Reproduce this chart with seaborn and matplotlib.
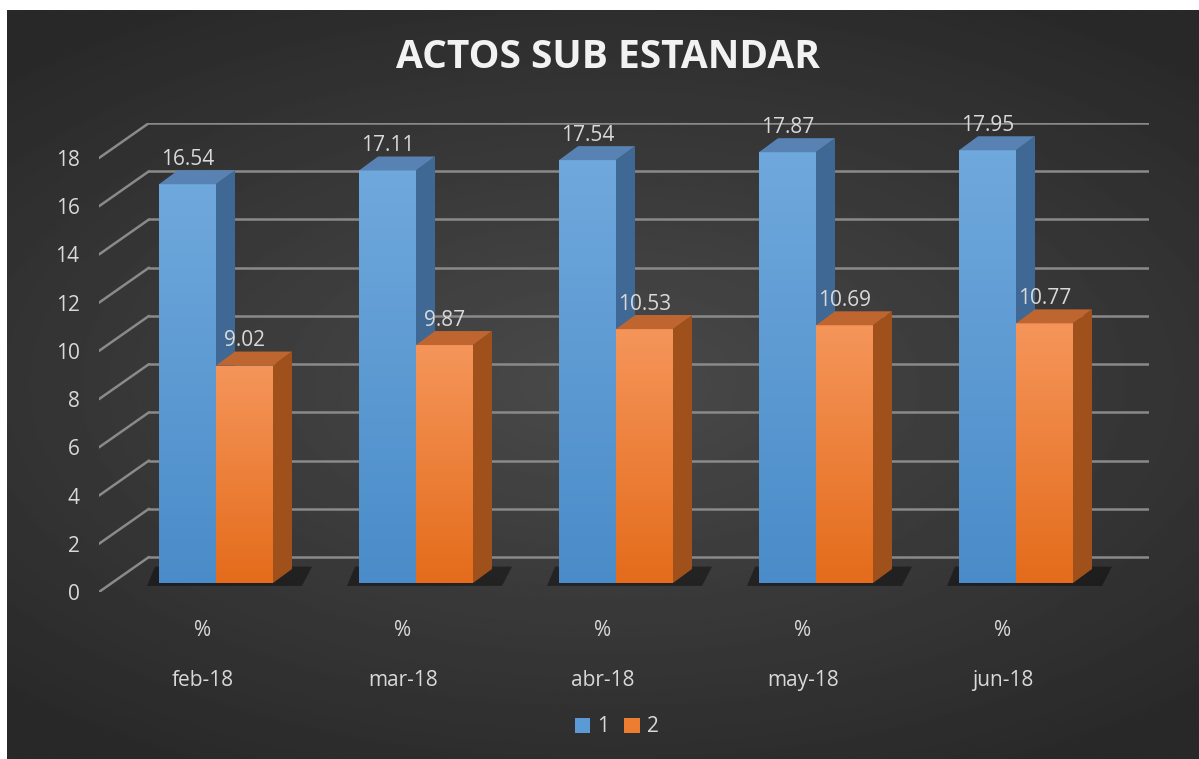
import numpy as np
import pandas as pd
import matplotlib
matplotlib.use("Agg")
import matplotlib.pyplot as plt
import seaborn as sns
from matplotlib.patches import Polygon

# Data
months = ["feb-18", "mar-18", "abr-18", "may-18", "jun-18"]
serie_1 = [16.54, 17.11, 17.54, 17.87, 17.95]
serie_2 = [9.02, 9.87, 10.53, 10.69, 10.77]
y_ticks = [0, 2, 4, 6, 8, 10, 12, 14, 16, 18]

df = pd.DataFrame({
    "mes": months * 2,
    "valor": serie_1 + serie_2,
    "serie": ["1"] * len(months) + ["2"] * len(months),
})

sns.set_theme(style="dark")
plt.rcParams["font.family"] = ["Open Sans", "DejaVu Sans"]

txt_col = "#d9d9d9"
grid_col = "#8a8a8a"

# 3D look offsets (data units)
dxb, dyb = 0.185, 1.08     # back wall
dxf, dyf = -0.065, -0.373  # front edge of floor
ddx, ddy = 0.095, 0.58     # bar depth
xl, xr = -0.52, 4.48

fig = plt.figure(figsize=(11.99, 7.59), dpi=100)
fig.patch.set_facecolor("white")

# background panel with radial gradient
bg = fig.add_axes([7 / 1199, 0, 1 - 7 / 1199, 1 - 10 / 759])
yy, xx = np.mgrid[-1:1:300j, -1:1:400j]
rr = np.sqrt((xx * 0.9) ** 2 + (yy * 1.1) ** 2)
bg.imshow(0.29 - 0.13 * np.clip(rr, 0, 1.3) / 1.3, cmap="gray", vmin=0, vmax=1,
          aspect="auto", extent=[0, 1, 0, 1])
bg.set_axis_off()

ax = fig.add_axes([99 / 1199, 167 / 759, 1050 / 1199, 469 / 759])
ax.patch.set_alpha(0)
ax.set_zorder(2)

palette = {"1": "#5b9bd5", "2": "#ed7d31"}
sns.barplot(data=df, x="mes", y="valor", hue="serie", palette=palette,
            width=0.57, saturation=1, ax=ax, legend=True, zorder=3)

ax.set_xlim(xl + dxf, xr + dxb)
ax.set_ylim(dyf, y_ticks[-1] + dyb)

# grid: back wall lines and left side diagonals
for v in y_ticks:
    ax.plot([xl + dxb, xr + dxb], [v + dyb, v + dyb], color=grid_col, lw=1.8, zorder=1)
    ax.plot([xl + dxf, xl + dxb], [v + dyf, v + dyb], color=grid_col, lw=1.8, zorder=1)

faces = {
    "1": ("#6fa8dc", "#4a8cc9", "#3f6894", "#5782b3"),
    "2": ("#f5955a", "#e46c1b", "#a0501b", "#bf6530"),
}
hues = ["1"] * len(months) + ["2"] * len(months)
patches = ax.patches[:len(hues)]

# floor shadow under each group
for i in range(len(months)):
    x0 = patches[i].get_x()
    x1 = patches[i + len(months)].get_x() + patches[i + len(months)].get_width()
    ax.add_patch(Polygon([(x0 - 0.06, -0.12), (x1 + ddx + 0.05, -0.12),
                          (x1 + ddx + 0.1, ddy + 0.1), (x0 - 0.02, ddy + 0.1)],
                         closed=True, fc="black", alpha=0.4, lw=0, zorder=2))

for p, h in zip(patches, hues):
    x0, w, hgt = p.get_x(), p.get_width(), p.get_height()
    top, bot, side, cap = faces[h]
    p.set_alpha(0)
    # front face gradient
    grad = np.linspace(0, 1, 100).reshape(-1, 1)
    cmap = matplotlib.colors.LinearSegmentedColormap.from_list("g", [bot, top])
    front = Polygon([(x0, 0), (x0 + w, 0), (x0 + w, hgt), (x0, hgt)], closed=True,
                    fc="none", lw=0)
    ax.add_patch(front)
    im = ax.imshow(grad, cmap=cmap, aspect="auto", origin="lower",
                   extent=[x0, x0 + w, 0, hgt], zorder=4)
    im.set_clip_path(front)
    # side and top faces
    ax.add_patch(Polygon([(x0 + w, 0), (x0 + w + ddx, ddy), (x0 + w + ddx, hgt + ddy),
                          (x0 + w, hgt)], closed=True, fc=side, lw=0, zorder=4))
    ax.add_patch(Polygon([(x0, hgt), (x0 + w, hgt), (x0 + w + ddx, hgt + ddy),
                          (x0 + ddx, hgt + ddy)], closed=True, fc=cap, lw=0, zorder=4))
    ax.text(x0 + w / 2, hgt + ddy + 0.02, f"{hgt:.2f}", ha="center", va="bottom",
            color=txt_col, fontsize=15, zorder=5)

ax.set_aspect("auto")
ax.set_xlim(xl + dxf, xr + dxb)
ax.set_ylim(dyf, y_ticks[-1] + dyb)

ax.set_yticks([v + dyf for v in y_ticks], labels=[str(v) for v in y_ticks])
ax.set_xticks([i + dxf for i in range(len(months))],
              labels=["%\n\n" + m for m in months])
ax.tick_params(axis="y", colors=txt_col, labelsize=15, length=0, pad=14)
ax.tick_params(axis="x", colors=txt_col, labelsize=15, length=0, pad=20)
for lab in ax.get_xticklabels():
    lab.set_linespacing(1.25)
ax.set_xlabel("")
ax.set_ylabel("")
ax.grid(False)
for s in ax.spines.values():
    s.set_visible(False)

leg = ax.legend(loc="center", bbox_to_anchor=(0.493, (759 - 727 - 167) / 469),
                ncol=2, frameon=False, fontsize=15, labelcolor=txt_col,
                handlelength=0.75, handleheight=0.75, handletextpad=0.35,
                columnspacing=0.7)
for hnd, h in zip(leg.legend_handles, ["1", "2"]):
    hnd.set_alpha(1)
    hnd.set_facecolor(palette[h])
    hnd.set_edgecolor("none")

fig.text(608 / 1199, 1 - 58 / 759, "ACTOS SUB ESTANDAR", ha="center", va="center",
         color="#f2f2f2", fontsize=28, fontweight="bold")

fig.savefig("out.png", dpi=100, facecolor=fig.get_facecolor())
